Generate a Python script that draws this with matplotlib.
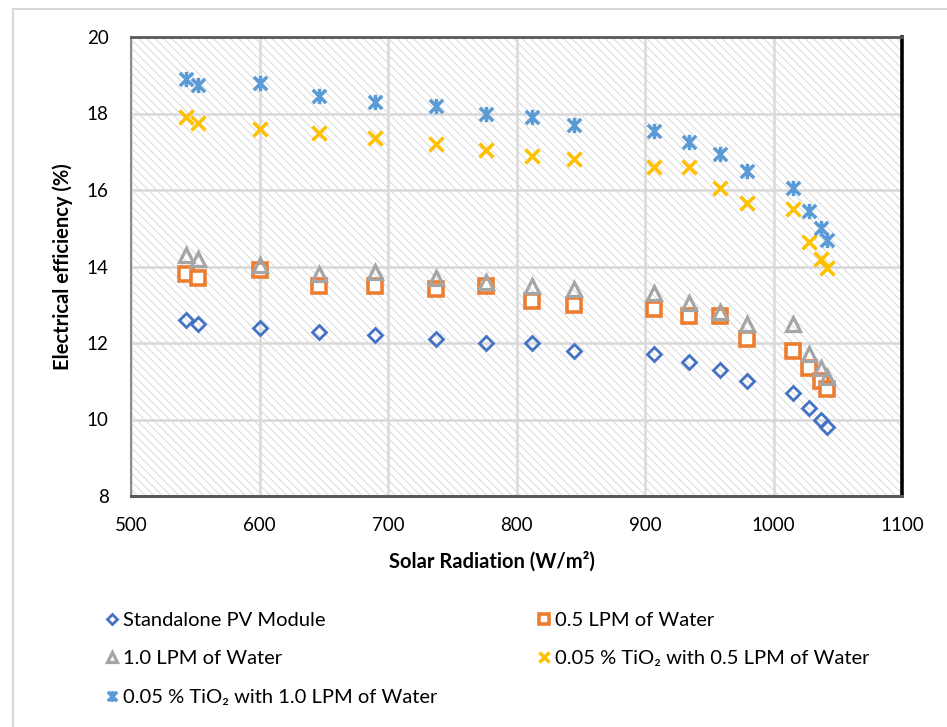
import matplotlib
matplotlib.use("Agg")
import matplotlib.pyplot as plt
from matplotlib.path import Path
from matplotlib.lines import Line2D

plt.rcParams['font.family'] = ['Lato', 'DejaVu Sans']
plt.rcParams['hatch.linewidth'] = 0.8

# solar radiation (W/m2), shared by every series
radiation = [543, 552, 600, 646, 690, 737, 776, 812, 845, 907, 934, 958, 979, 1015, 1028, 1037, 1042]

# electrical efficiency (%)
standalone = [12.6, 12.5, 12.4, 12.3, 12.2, 12.1, 12.0, 12.0, 11.8, 11.7, 11.5, 11.3, 11.0, 10.7, 10.3, 10.0, 9.8]
lpm_05 = [13.8, 13.7, 13.9, 13.5, 13.5, 13.4, 13.5, 13.1, 13.0, 12.9, 12.7, 12.7, 12.1, 11.8, 11.35, 11.0, 10.8]
lpm_10 = [14.3, 14.2, 14.05, 13.8, 13.85, 13.7, 13.6, 13.5, 13.4, 13.3, 13.05, 12.8, 12.5, 12.5, 11.7, 11.35, 11.1]
tio2_05 = [17.9, 17.75, 17.6, 17.5, 17.35, 17.2, 17.05, 16.9, 16.8, 16.6, 16.6, 16.05, 15.65, 15.5, 14.65, 14.2, 13.95]
tio2_10 = [18.9, 18.75, 18.8, 18.45, 18.3, 18.2, 18.0, 17.9, 17.7, 17.55, 17.25, 16.95, 16.5, 16.05, 15.45, 15.0, 14.7]

x_ticks = [500, 600, 700, 800, 900, 1000, 1100]
y_ticks = [8, 10, 12, 14, 16, 18, 20]

# Excel style asterisk: an X with a vertical bar through it
star = Path([(-1, -1), (1, 1), (-1, 1), (1, -1), (0, -1.15), (0, 1.15)],
            [Path.MOVETO, Path.LINETO, Path.MOVETO, Path.LINETO, Path.MOVETO, Path.LINETO])

fig = plt.figure(figsize=(9.47, 7.27), dpi=100)
ax = fig.add_axes([131/947, 1-496/727, 771/947, 459/727])

# outer chart border (only left and top are visible in the crop)
fig.add_artist(Line2D([13/947, 13/947], [0, 1-9/727], color='#d9d9d9', lw=1.5))
fig.add_artist(Line2D([13/947, 1], [1-9/727, 1-9/727], color='#d9d9d9', lw=1.5))

ax.set_facecolor('white')
ax.patch.set_hatch('\\\\\\\\')
ax.patch.set_edgecolor('#dcdcdc')

h1, = ax.plot(radiation, standalone, ls='none', marker='D', ms=7.5, mew=2,
              mfc='none', mec='#4472C4', label='Standalone PV Module', zorder=3)
h2, = ax.plot(radiation, lpm_05, ls='none', marker='s', ms=10.5, mew=2.6,
              mfc='white', mec='#ED7D31', label='0.5 LPM of Water', zorder=3)
h3, = ax.plot(radiation, lpm_10, ls='none', marker='^', ms=10, mew=2.3,
              mfc='none', mec='#A5A5A5', label='1.0 LPM of Water', zorder=4)
h4, = ax.plot(radiation, tio2_05, ls='none', marker='x', ms=10, mew=2.5,
              color='#FFC000', label='0.05 % TiO\u2082 with 0.5 LPM of Water', zorder=3)
h5, = ax.plot(radiation, tio2_10, ls='none', marker=star, ms=11, mew=2.5,
              color='#5B9BD5', label='0.05 % TiO\u2082 with 1.0 LPM of Water', zorder=3)

ax.set_xlim(500, 1100)
ax.set_ylim(8, 20)
ax.set_xticks(x_ticks)
ax.set_yticks(y_ticks)
ax.tick_params(length=0, labelsize=13.5, colors='black')
ax.tick_params(axis='y', pad=16)
ax.tick_params(axis='x', pad=15)
ax.grid(True, color='#d9d9d9', lw=1.8)
ax.set_axisbelow(True)

ax.spines['left'].set_color('#8c8c8c')
ax.spines['left'].set_linewidth(1.5)
ax.spines['top'].set_color('#595959')
ax.spines['top'].set_linewidth(2)
ax.spines['bottom'].set_color('#595959')
ax.spines['bottom'].set_linewidth(2.2)
ax.spines['right'].set_color('black')
ax.spines['right'].set_linewidth(2.6)

ax.set_xlabel('Solar Radiation (W/m\u00b2)', fontsize=14.5, fontweight='bold')
ax.xaxis.set_label_coords((492-131)/771, -(551-496)/459)
ax.set_ylabel('Electrical efficiency (%)', fontsize=14.5, fontweight='bold')
ax.yaxis.set_label_coords(-(131-73)/771, 0.5)

# two legend blocks, laid out row by row like the reference
leg_kw = dict(loc='upper left', frameon=False, fontsize=14.5, markerscale=0.7,
              handlelength=0.55, handletextpad=0.3, labelspacing=1.05,
              borderaxespad=0, borderpad=0)
leg1 = fig.legend([h1, h3, h5], [h1.get_label(), h3.get_label(), h5.get_label()],
                  bbox_to_anchor=(106/947, 1-612/727), **leg_kw)
leg2 = fig.legend([h2, h4], [h2.get_label(), h4.get_label()],
                  bbox_to_anchor=(538/947, 1-612/727), **leg_kw)

fig.savefig('out.png', dpi=100)
